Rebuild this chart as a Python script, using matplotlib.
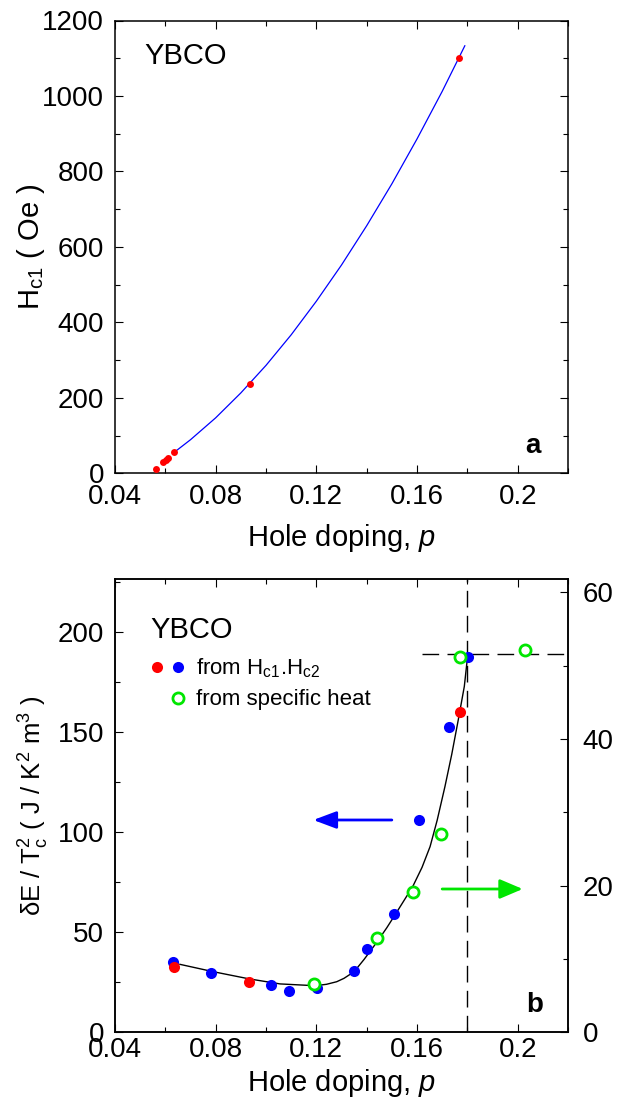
import matplotlib
matplotlib.use("Agg")
import matplotlib.pyplot as plt
from matplotlib.ticker import MultipleLocator, FixedLocator, FixedFormatter
from matplotlib.legend_handler import HandlerTuple

plt.rcParams['font.family'] = ['Liberation Sans', 'DejaVu Sans']
plt.rcParams['mathtext.fontset'] = 'custom'
plt.rcParams['mathtext.rm'] = 'Liberation Sans'
plt.rcParams['mathtext.it'] = 'Liberation Sans:italic'
plt.rcParams['mathtext.bf'] = 'Liberation Sans:bold'

# ---- panel a: Hc1 vs doping ----
p_hc1 = [0.0563, 0.0592, 0.0603, 0.0612, 0.0634, 0.0936, 0.1766]
hc1 = [11, 29, 35, 40, 56, 237, 1100]
p_hc1_fit = [0.0636, 0.07, 0.08, 0.09, 0.10, 0.11, 0.12, 0.13, 0.14, 0.15, 0.16, 0.17, 0.179]
hc1_fit = [56, 89, 147, 213, 286, 367, 456, 552, 656, 767, 886, 1012, 1133]

# ---- panel b: condensation energy ----
p_blue = [0.0629, 0.0780, 0.1020, 0.1091, 0.1204, 0.135, 0.140, 0.1509, 0.1609, 0.1728, 0.1804]
de_blue = [35.3, 29.8, 23.5, 20.7, 22.3, 30.8, 41.5, 59.2, 106.2, 152.5, 187.8]
p_red = [0.0634, 0.0934, 0.1770]
de_red = [32.8, 25.3, 160.0]
p_green = [0.1189, 0.144, 0.1583, 0.1695, 0.1772, 0.2029]
de_green = [6.55, 12.86, 19.2, 27.1, 51.2, 52.1]   # right axis
p_fit = [0.0658, 0.0791, 0.0934, 0.1056, 0.1195, 0.124, 0.1281, 0.131, 0.135, 0.139,
         0.144, 0.148, 0.1519, 0.1583, 0.162, 0.1652, 0.168, 0.1711, 0.1738, 0.1764,
         0.1788, 0.1801]
de_fit = [34.0, 30.3, 26.7, 24.2, 23.3, 24.0, 25.3, 27.0, 30.3, 36.5,
          45.0, 52.3, 60.0, 72.9, 82.5, 92.9, 106.0, 122.9, 139.0, 156.3,
          173.0, 188.0]
p_crit = 0.18
de_crit = 189.2
p_hline_start = 0.162
blue_arrow = [0.150, 0.1188, 106.2]   # from, to, level (left axis)
green_arrow = [0.170, 0.202, 19.55]   # from, to, level (right axis)

xtick_vals = [0.04, 0.08, 0.12, 0.16, 0.2]
xtick_labels = ['0.04', '0.08', '0.12', '0.16', '0.2']

RED = '#ff0000'
BLUE = '#0000ff'
GREEN = '#00e600'

W, H = 619, 1107
fig = plt.figure(figsize=(W / 100, H / 100), dpi=100)
ax1 = fig.add_axes([115 / W, 1 - 473.3 / H, 453 / W, 452.8 / H])
ax2 = fig.add_axes([115 / W, 1 - 1032.3 / H, 453 / W, 453 / H])
ax3 = ax2.twinx()


def style(ax):
    for s in ax.spines.values():
        s.set_linewidth(1.1)
    ax.tick_params(which='both', direction='in', width=0.8, labelsize=20, pad=8)
    ax.tick_params(which='major', length=5.5)
    ax.tick_params(which='minor', length=3.6)


# panel a
ax1.plot(p_hc1_fit, hc1_fit, color=BLUE, lw=0.9, zorder=2)
ax1.plot(p_hc1, hc1, 'o', color=RED, ms=5, mec='none', zorder=3)
ax1.set_xlim(0.04, 0.22)
ax1.set_ylim(0, 1200)
ax1.xaxis.set_major_locator(FixedLocator(xtick_vals))
ax1.xaxis.set_major_formatter(FixedFormatter(xtick_labels))
ax1.xaxis.set_minor_locator(MultipleLocator(0.02))
ax1.yaxis.set_major_locator(MultipleLocator(200))
ax1.yaxis.set_minor_locator(MultipleLocator(100))
style(ax1)
ax1.tick_params(which='both', top=True, right=True)
ax1.set_xlabel('Hole doping, $\\it{p}$', fontsize=21, labelpad=8)
ax1.set_ylabel('H$_{\\rm c1}$ ( Oe )', fontsize=21)
ax1.yaxis.set_label_coords(-0.15, 0.5)
ax1.text(0.064, 0.904, 'YBCO', transform=ax1.transAxes, fontsize=21, va='baseline')
ax1.text(0.94, 0.045, 'a', transform=ax1.transAxes, fontsize=20, fontweight='bold',
         ha='right', va='baseline')

# panel b
ax2.axvline(p_crit, color='black', lw=1, ls=(0, (12, 6)), zorder=1)
ax2.plot([p_hline_start, 0.22], [de_crit, de_crit], color='black', lw=1,
         ls=(0, (12, 6)), zorder=1, clip_on=False)
ax2.plot(p_fit, de_fit, color='black', lw=1, zorder=2)
hb, = ax2.plot(p_blue, de_blue, 'o', color=BLUE, ms=8, mec='none', zorder=3)
hr, = ax2.plot(p_red, de_red, 'o', color=RED, ms=8, mec='none', zorder=4)
ax2.annotate('', xy=(blue_arrow[1], blue_arrow[2]), xytext=(blue_arrow[0], blue_arrow[2]),
             arrowprops=dict(arrowstyle='-|>,head_length=0.4,head_width=0.15', color=BLUE,
                             lw=2, mutation_scale=35, shrinkA=0, shrinkB=0))
ax2.set_xlim(0.04, 0.22)
ax2.set_ylim(0, 226.6)
ax2.xaxis.set_major_locator(FixedLocator(xtick_vals))
ax2.xaxis.set_major_formatter(FixedFormatter(xtick_labels))
ax2.xaxis.set_minor_locator(MultipleLocator(0.02))
ax2.yaxis.set_major_locator(MultipleLocator(50))
ax2.yaxis.set_minor_locator(MultipleLocator(25))
style(ax2)
ax2.tick_params(which='both', top=True, right=False)
ax2.tick_params(axis='x', which='both', pad=3.5)
ax2.set_xlabel('Hole doping, $\\it{p}$', fontsize=21, labelpad=3)
ax2.set_ylabel('δE / T$_{\\rm c}^{\\rm 2}$ ( J / K$^{\\rm 2}$ m$^{\\rm 3}$ )', fontsize=18.5)
ax2.yaxis.set_label_coords(-0.141, 0.5)
ax2.text(0.077, 0.870, 'YBCO', transform=ax2.transAxes, fontsize=21, va='baseline')
ax2.text(0.945, 0.045, 'b', transform=ax2.transAxes, fontsize=20, fontweight='bold',
         ha='right', va='baseline')

hg, = ax3.plot(p_green, de_green, 'o', color=GREEN, mfc='white', mew=2, ms=8, zorder=5)
ax3.annotate('', xy=(green_arrow[1], green_arrow[2]), xytext=(green_arrow[0], green_arrow[2]),
             arrowprops=dict(arrowstyle='-|>,head_length=0.4,head_width=0.17', color=GREEN,
                             lw=2, mutation_scale=35, shrinkA=0, shrinkB=0))
ax3.set_ylim(0, 61.8)
ax3.yaxis.set_major_locator(MultipleLocator(20))
ax3.yaxis.set_minor_locator(MultipleLocator(10))
style(ax3)
ax3.tick_params(axis='y', which='both', pad=10.5)

# legend
blank, = ax2.plot([], [], ls='none', marker='None')
ax2.legend([(hr, hb), (blank, hg)],
           ['from H$_{\\rm c1}$.H$_{\\rm c2}$', 'from specific heat'],
           handler_map={tuple: HandlerTuple(ndivide=None, pad=0)},
           loc='upper left', bbox_to_anchor=(0.068, 0.830), frameon=False,
           fontsize=16, handlelength=1.95, handletextpad=0.3, labelspacing=0.43,
           borderpad=0, borderaxespad=0)

fig.savefig('out.png', dpi=100)
